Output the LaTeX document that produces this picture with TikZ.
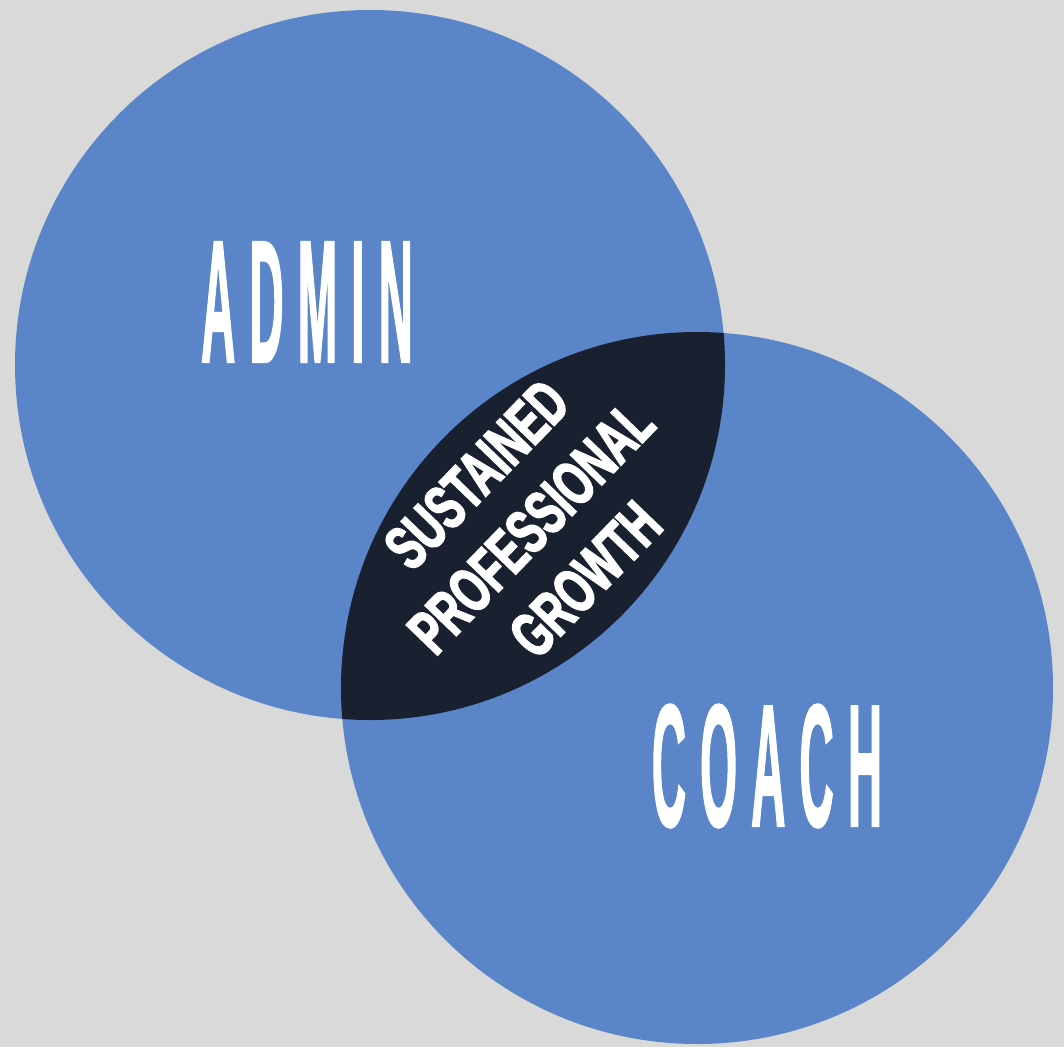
\documentclass[tikz,border=0pt]{standalone}
\usepackage{fontspec}
\setmainfont{Liberation Sans}
\newfontfamily\tallfont[FakeStretch=0.27,LetterSpace=8,FakeBold=0.6]{Liberation Sans}
\newfontfamily\heavyfont[FakeStretch=0.64,FakeBold=2.5]{Liberation Sans}
\usetikzlibrary{positioning}
\definecolor{bgray}{HTML}{D9D9D9}
\definecolor{vennblue}{HTML}{5A86C9}
\definecolor{lensnavy}{HTML}{19202F}

\begin{document}
\begin{tikzpicture}[
    x=0.01cm, y=0.01cm,
    bigword/.style={text=white, inner sep=0pt, font=\tallfont\bfseries\fontsize{50}{50}\selectfont},
    midword/.style={text=white, inner sep=0pt, align=center, rotate=46,
        font=\heavyfont\bfseries\fontsize{18}{21.5}\selectfont}
]
    \fill[bgray] (0,0) rectangle (1064,1047);

    % the two circles
    \fill[vennblue] (370,682) circle (355);
    \fill[vennblue] (697,359) circle (356);

    % overlap
    \begin{scope}
        \clip (370,682) circle (355);
        \fill[lensnavy] (697,359) circle (356);
    \end{scope}

    \node[bigword] (admin) at (307,745) {ADMIN};
    \node[bigword] (coach) at (767,281) {COACH};
    \node[midword] (growth) at (531,520) {SUSTAINED\\PROFESSIONAL\\GROWTH};
\end{tikzpicture}
\end{document}
